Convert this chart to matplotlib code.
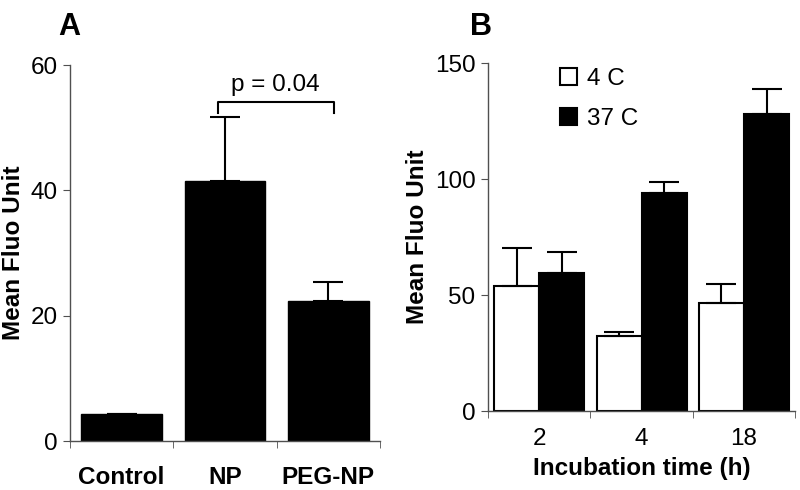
import numpy as np
import matplotlib
matplotlib.use('Agg')
import matplotlib.pyplot as plt
from matplotlib.patches import Patch

plt.rcParams['font.family'] = ['Liberation Sans', 'DejaVu Sans']
plt.rcParams['font.size'] = 17.5

# panel A data
groups_a = ['Control', 'NP', 'PEG-NP']
mean_a = [4.3, 41.5, 22.4]
err_a = [0.0, 10.2, 3.0]

# panel B data
times_b = ['2', '4', '18']
mean_4c = [53.9, 32.3, 46.5]
err_4c = [16.4, 1.8, 8.1]
mean_37c = [59.5, 93.9, 128.0]
err_37c = [9.0, 4.9, 10.8]

spine_col = '#505050'

fig = plt.figure(figsize=(8, 4.9), dpi=100)
axA = fig.add_axes([0.0875, 0.10, 0.3875, 0.767])
axB = fig.add_axes([0.61, 0.161, 0.384, 0.710])


def style(ax, n):
    for s in ['top', 'right']:
        ax.spines[s].set_visible(False)
    for s in ['left', 'bottom']:
        ax.spines[s].set_color(spine_col)
        ax.spines[s].set_linewidth(1.0)
    ax.set_xlim(-0.5, n - 0.5)
    ax.set_xticks(np.arange(n))
    ax.set_xticks(np.arange(n + 1) - 0.5, minor=True)
    ax.tick_params(axis='x', which='major', length=0, pad=18)
    ax.tick_params(axis='x', which='minor', length=5, color=spine_col, direction='out')
    ax.tick_params(axis='y', length=5, color=spine_col, direction='out', pad=4)


# --- Panel A ---
xa = np.arange(len(groups_a))
axA.bar(xa, mean_a, width=0.78, color='black', edgecolor='black')
axA.errorbar(xa, mean_a, yerr=[np.zeros(3), err_a], fmt='none', ecolor='black',
             elinewidth=1.5, capsize=11, capthick=1.5)
style(axA, 3)
axA.set_ylim(0, 60)
axA.set_yticks([0, 20, 40, 60])
axA.set_xticklabels(groups_a, fontweight='bold')
axA.set_ylabel('Mean Fluo Unit', fontweight='bold', labelpad=4)
# significance bracket
bx0, bx1, by, bh = 0.93, 2.05, 54.1, 1.8
axA.plot([bx0, bx0, bx1, bx1], [by - bh, by, by, by - bh], color='black', lw=1.5,
         clip_on=False)
axA.text((bx0 + bx1) / 2, by + 1.0, 'p = 0.04', ha='center', va='bottom')
fig.text(0.073, 0.975, 'A', fontsize=22, fontweight='bold', va='top')

# --- Panel B ---
xb = np.arange(len(times_b))
off = 0.22
w = 0.44
axB.bar(xb - off, mean_4c, width=w, color='white', edgecolor='black', lw=1.5,
        label='4 C')
axB.bar(xb + off, mean_37c, width=w, color='black', edgecolor='black', lw=1.5,
        label='37 C')
axB.errorbar(xb - off, mean_4c, yerr=[np.zeros(3), err_4c], fmt='none',
             ecolor='black', elinewidth=1.5, capsize=11, capthick=1.5)
axB.errorbar(xb + off, mean_37c, yerr=[np.zeros(3), err_37c], fmt='none',
             ecolor='black', elinewidth=1.5, capsize=11, capthick=1.5)
style(axB, 3)
axB.tick_params(axis='x', which='major', pad=12)
axB.set_ylim(0, 150)
axB.set_yticks([0, 50, 100, 150])
axB.set_xticklabels(times_b)
axB.set_xlabel('Incubation time (h)', fontweight='bold', labelpad=5)
axB.set_ylabel('Mean Fluo Unit', fontweight='bold', labelpad=4)
handles = [Patch(facecolor='white', edgecolor='black', lw=1.5),
           Patch(facecolor='black', edgecolor='black', lw=1.5)]
axB.legend(handles, ['4 C', '37 C'], loc='upper left', bbox_to_anchor=(0.18, 1.035),
           frameon=False, handlelength=0.7, handleheight=0.7, handletextpad=0.4,
           labelspacing=0.75, borderpad=0.2)
fig.text(0.588, 0.975, 'B', fontsize=22, fontweight='bold', va='top')

fig.savefig('out.png', dpi=100)
